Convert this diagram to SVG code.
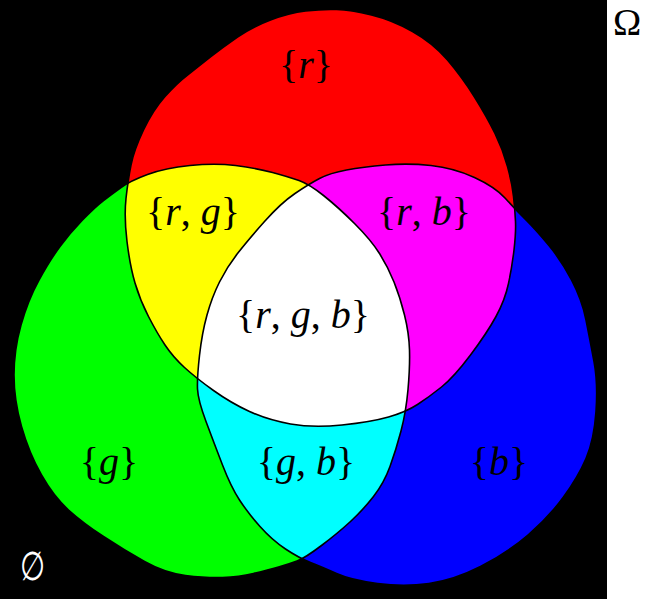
<svg xmlns="http://www.w3.org/2000/svg" xmlns:xlink="http://www.w3.org/1999/xlink" width="646" height="599" viewBox="0 0 646 599">
<style>
.lbl{font-family:"Liberation Serif","DejaVu Serif",serif;font-size:40px;fill:#000;text-anchor:middle}
.it{font-style:italic}
.edge{fill:none;stroke:#000;stroke-width:1.6}
</style>
<defs>
<path id="R" d="M305.5,11 Q322,9 336.5,9.5 Q351,10 371.5,15 Q392,20 412.5,31.5 Q433,43 447.5,60 Q462,77 474.5,97 Q487,117 495,133.5 Q503,150 507.5,166.5 Q512,183 513.5,196.5 Q515,210 515.5,221.5 Q516,233 514,250 Q512,267 508.5,283.5 Q505,300 496,316.5 Q487,333 470.5,355 Q454,377 441.5,387 Q429,397 417.5,404.5 Q406,412 388.5,417 Q371,422 342,425 Q313,428 290.5,424 Q268,420 249.5,411.5 Q231,403 213.5,390.5 Q196,378 184.5,367.5 Q173,357 165,345 Q157,333 148.5,316.5 Q140,300 135,283 Q130,266 127,241.5 Q124,217 126,198.5 Q128,180 131,165 Q134,150 143.5,130 Q153,110 165,96.5 Q177,83 187.5,75 Q198,67 210.5,57 Q223,47 237.5,37 Q252,27 270.5,20 Q289,13 305.5,11 Z"/>
<path id="G" d="M121,187.5 Q130,181 147.5,174.5 Q165,168 190,165.5 Q215,163 235.5,165.5 Q256,168 272.5,172.5 Q289,177 299,180.5 Q309,184 323.5,195.5 Q338,207 354.5,223.5 Q371,240 379.5,253.5 Q388,267 394,282 Q400,297 404.5,315 Q409,333 409.5,350 Q410,367 408,389.5 Q406,412 401,431 Q396,450 390,466.5 Q384,483 373.5,496.5 Q363,510 350.5,521.5 Q338,533 321.5,545.5 Q305,558 297,561 Q289,564 278.5,567 Q268,570 253.5,573.5 Q239,577 222.5,577.5 Q206,578 185.5,575.5 Q165,573 144.5,561.5 Q124,550 103.5,536.5 Q83,523 68.5,510 Q54,497 41.5,475 Q29,453 21.5,426.5 Q14,400 14,375 Q14,350 21,325 Q28,300 39,280 Q50,260 60,246.5 Q70,233 82.5,220 Q95,207 103.5,200.5 Q112,194 121,187.5 Z"/>
<path id="B" d="M295,193.5 Q309,184 319.5,178.5 Q330,173 346.5,170 Q363,167 385.5,165 Q408,163 431,165.5 Q454,168 474.5,177.5 Q495,187 505,198 Q515,209 525.5,219.5 Q536,230 548.5,245 Q561,260 571.5,280 Q582,300 586,320 Q590,340 594,361.5 Q598,383 596,411.5 Q594,440 586,458.5 Q578,477 563.5,497 Q549,517 528,535 Q507,553 480.5,566.5 Q454,580 429,583.5 Q404,587 377.5,583.5 Q351,580 336.5,573.5 Q322,567 310.5,562.5 Q299,558 285.5,549 Q272,540 260,526.5 Q248,513 239.5,500 Q231,487 222.5,465 Q214,443 206,421.5 Q198,400 197.5,389 Q197,378 199.5,355.5 Q202,333 207,315 Q212,297 219.5,282 Q227,267 237.5,253.5 Q248,240 264.5,221.5 Q281,203 295,193.5 Z"/>
<clipPath id="cR"><use xlink:href="#R"/></clipPath>
<clipPath id="cG"><use xlink:href="#G"/></clipPath>
<clipPath id="cB"><use xlink:href="#B"/></clipPath>
</defs>
<rect x="0" y="0" width="646" height="599" fill="#fff"/>
<rect x="0" y="0" width="607" height="599" fill="#000"/>
<g id="set-r"><use xlink:href="#R" fill="#ff0000"/></g>
<g id="set-g"><use xlink:href="#G" fill="#00ff00"/></g>
<g id="set-b"><use xlink:href="#B" fill="#0000ff"/></g>
<g id="set-rg"><use xlink:href="#G" fill="#ffff00" clip-path="url(#cR)"/></g>
<g id="set-rb"><use xlink:href="#B" fill="#ff00ff" clip-path="url(#cR)"/></g>
<g id="set-gb"><use xlink:href="#B" fill="#00ffff" clip-path="url(#cG)"/></g>
<g id="set-rgb" clip-path="url(#cB)"><use xlink:href="#G" fill="#ffffff" clip-path="url(#cR)"/></g>
<g id="connectors">
<use xlink:href="#R" class="edge"/>
<use xlink:href="#G" class="edge"/>
<use xlink:href="#B" class="edge"/>
</g>
<g id="labels">
<text class="lbl" x="306" y="78">{<tspan class="it">r</tspan>}</text>
<text class="lbl" x="193" y="225">{<tspan class="it">r</tspan>, <tspan class="it">g</tspan>}</text>
<text class="lbl" x="424" y="225">{<tspan class="it">r</tspan>, <tspan class="it">b</tspan>}</text>
<text class="lbl" x="303" y="328">{<tspan class="it">r</tspan>, <tspan class="it">g</tspan>, <tspan class="it">b</tspan>}</text>
<text class="lbl" x="109" y="475">{<tspan class="it">g</tspan>}</text>
<text class="lbl" x="306" y="475">{<tspan class="it">g</tspan>, <tspan class="it">b</tspan>}</text>
<text class="lbl" x="499" y="475">{<tspan class="it">b</tspan>}</text>
<text x="627" y="35" font-family="Liberation Serif, DejaVu Serif, serif" font-size="38" text-anchor="middle" fill="#000">Ω</text>
<text x="0" y="0" transform="translate(32,580) scale(0.72,1)" font-family="DejaVu Serif, serif" font-size="40" text-anchor="middle" fill="#fff">∅</text>
</g>
</svg>
